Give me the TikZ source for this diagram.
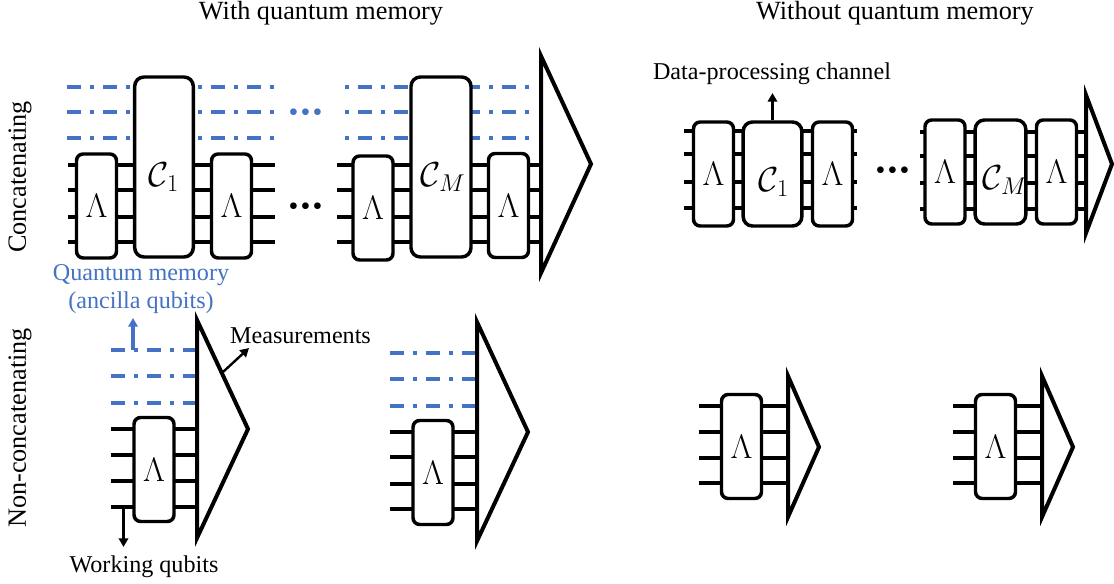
\documentclass[tikz,border=0pt]{standalone}
\usepackage{fix-cm}
\usepackage{amsmath,amssymb}
\usepackage{fontspec}
\setmainfont{Liberation Serif}
\usetikzlibrary{arrows.meta}
\definecolor{memblue}{HTML}{4472C4}
\newcommand{\gapdots}{•\kern1.65pt•\kern1.65pt•}
\tikzset{
  title/.style={font=\fontsize{19.7}{23}\selectfont,inner sep=0pt},
  note/.style={font=\fontsize{18.1}{21}\selectfont,inner sep=0pt},
  wire/.style={line width=2.3pt},
  memwire/.style={line width=2.3pt,color=memblue,dash pattern=on 10.5pt off 6.75pt on 3pt off 6.75pt},
  memwirealt/.style={line width=2.3pt,color=memblue,dash pattern=on 3pt off 6.75pt on 10.5pt off 6.75pt},
  meas/.style={line width=3pt,fill=white,miter limit=10},
  lamgate/.style={draw,line width=2.6pt,fill=white,rounded corners=5pt,inner sep=0pt,
    minimum width=30pt,minimum height=78pt,font=\fontsize{25.5}{28}\selectfont},
  chgate/.style={draw,line width=2.6pt,fill=white,rounded corners=7pt,inner sep=0pt,minimum height=135pt},
  chlabel/.style={font=\fontsize{26}{29}\selectfont,inner sep=0pt},
  pointer/.style={-{Triangle[length=6.5pt,width=7pt]},line width=1.8pt},
  dotsnode/.style={font=\fontsize{21}{25}\selectfont,inner sep=0pt}
}
\begin{document}
\begin{tikzpicture}[x=0.75pt,y=-0.75pt]
    \useasboundingbox (0,0) rectangle (1114,584);
    % headers
    \node[title] (withmem) at (321,13) {With quantum memory};
    \node[title] (nomem) at (895,13) {Without quantum memory};
    \node[title,rotate=90] (concat) at (20,177) {Concatenating};
    \node[title,rotate=90] (nonconcat) at (20,428) {Non-concatenating};
    % with memory, concatenating
    \foreach \y in {87,112,138} {
      \draw [memwire] (67,\y)-- (276,\y);
      \draw [memwirealt] (345,\y)-- (531,\y);
    }
    \foreach \y in {165,190,217,242} {
      \draw [wire] (68,\y)-- (275,\y);
      \draw [wire] (337,\y)-- (541,\y);
    }
    \draw [meas] (541,56)-- (591,164)-- (541,273)-- cycle;
    \node[lamgate] (lama) at (96.5,206) {$\Lambda$};
    \node[chgate,minimum width=44pt] (cha) at (164,167) {};
    \node[chlabel] (chatext) at (164,177) {$\mathcal{C}_1$};
    \node[lamgate] (lamb) at (231.5,206) {$\Lambda$};
    \node[lamgate] (lamc) at (373,208) {$\Lambda$};
    \node[chgate,minimum width=45pt] (chb) at (441,167) {};
    \node[chlabel] (chbtext) at (443,177) {$\mathcal{C}_M$};
    \node[lamgate] (lamd) at (508.5,205.5) {$\Lambda$};
    \node[dotsnode,color=memblue] (dotsmem) at (305.5,115.5) {\gapdots};
    \node[dotsnode] (dotswork) at (305.5,209.5) {\gapdots};
    % with memory, non-concatenating
    \foreach \y in {350,376,403} {
      \draw [memwire] (111,\y)-- (197,\y);
    }
    \foreach \y in {429,455,481,507} {
      \draw [wire] (111,\y)-- (197,\y);
    }
    \draw [meas] (197,320)-- (248,429)-- (197,538)-- cycle;
    \coordinate (measedge) at (223,372);
    \node[lamgate] (lame) at (154,469.5) {$\Lambda$};
    \foreach \y in {353,379,406} {
      \draw [memwire] (390,\y)-- (477,\y);
    }
    \foreach \y in {432,457,484,509} {
      \draw [wire] (390,\y)-- (477,\y);
    }
    \draw [meas] (477,322)-- (528,432)-- (477,541)-- cycle;
    \node[lamgate] (lamf) at (433,472.5) {$\Lambda$};
    % labels of the left part
    \node[note,color=memblue] (memtext) at (141,275.5) {Quantum memory};
    \node[note,color=memblue] (anctext) at (141,303) {(ancilla qubits)};
    \coordinate (memtip) at (133,318);
    \coordinate (memfoot) at (133,350);
    \draw [pointer,line width=2.3pt,color=memblue] (memfoot)-- (memtip);
    \node[note] (meastext) at (300.5,336) {Measurements};
    \coordinate (meastip) at (249,348);
    \draw [pointer] (measedge)-- (meastip);
    \node[note] (worktext) at (144,566.5) {Working qubits};
    \coordinate (workfoot) at (123.5,507);
    \coordinate (worktip) at (123.5,547);
    \draw [pointer] (workfoot)-- (worktip);
    % without memory, concatenating
    \foreach \y in {131,154,182,208} {
      \draw [wire] (684,\y)-- (857,\y);
    }
    \foreach \y in {132,156,183,209} {
      \draw [wire] (920,\y)-- (1086,\y);
    }
    \draw [meas] (1086,95)-- (1112,164)-- (1086,233)-- cycle;
    \node[lamgate] (lamg) at (713.5,174) {$\Lambda$};
    \node[chgate,minimum width=44pt,minimum height=78pt] (chc) at (772.5,174) {};
    \node[chlabel] (chctext) at (774,182) {$\mathcal{C}_1$};
    \node[lamgate] (lamh) at (832.5,174) {$\Lambda$};
    \node[dotsnode] (dotsright) at (892.5,173.5) {\gapdots};
    \node[lamgate] (lami) at (945,172) {$\Lambda$};
    \node[chgate,minimum width=38pt,minimum height=78pt] (chd) at (1000.5,172) {};
    \node[chlabel] (chdtext) at (1005,180) {$\mathcal{C}_M$};
    \node[lamgate] (lamj) at (1056.5,172) {$\Lambda$};
    \node[note] (chantext) at (772,74) {Data-processing channel};
    \coordinate (chantip) at (772.5,93);
    \draw [pointer] (chc.north)-- (chantip);
    % without memory, non-concatenating
    \foreach \y in {406,432,458,483} {
      \draw [wire] (699,\y)-- (788,\y);
      \draw [wire] (953,\y)-- (1042,\y);
    }
    \draw [meas] (788,376)-- (819,447)-- (788,517)-- cycle;
    \draw [meas] (1042,376)-- (1073,447)-- (1042,517)-- cycle;
    \node[lamgate] (lamk) at (741.5,446.5) {$\Lambda$};
    \node[lamgate] (laml) at (995.5,446.5) {$\Lambda$};
\end{tikzpicture}
\end{document}
